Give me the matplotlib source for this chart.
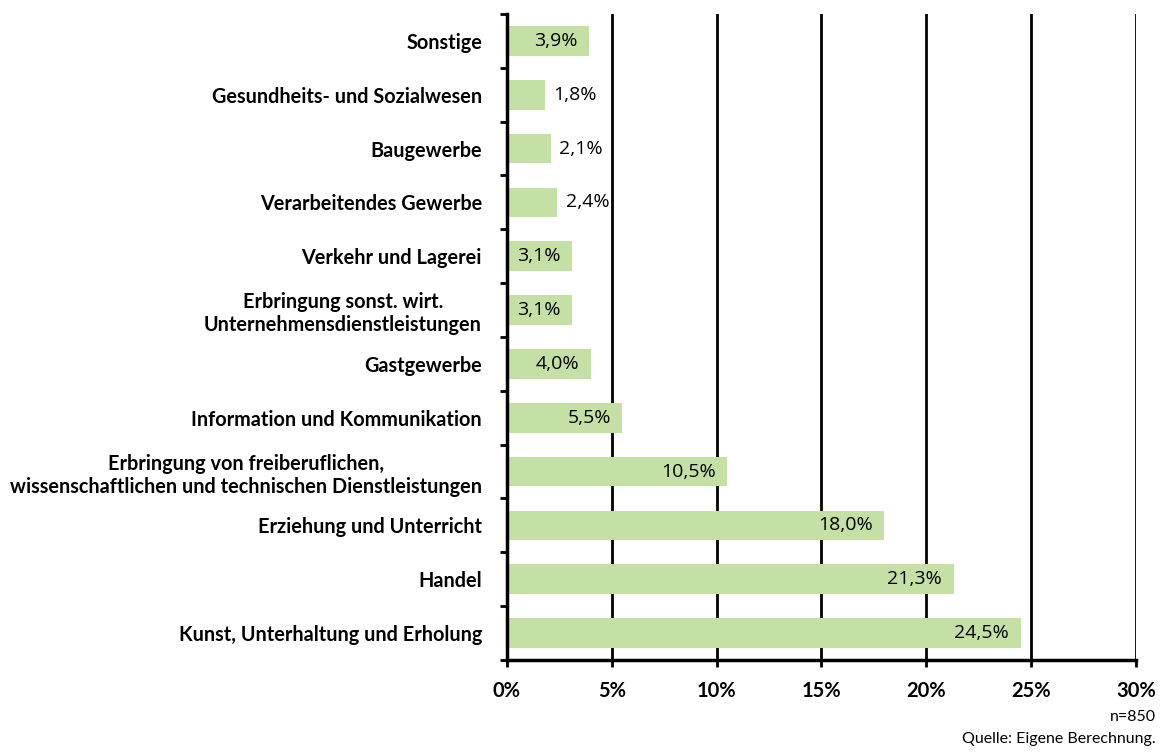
import matplotlib.pyplot as plt
import numpy as np

# categories from top to bottom
categories = [
    "Sonstige",
    "Gesundheits- und Sozialwesen",
    "Baugewerbe",
    "Verarbeitendes Gewerbe",
    "Verkehr und Lagerei",
    "Erbringung sonst. wirt.\nUnternehmensdienstleistungen",
    "Gastgewerbe",
    "Information und Kommunikation",
    "Erbringung von freiberuflichen,\nwissenschaftlichen und technischen Dienstleistungen",
    "Erziehung und Unterricht",
    "Handel",
    "Kunst, Unterhaltung und Erholung",
]
values = [3.9, 1.8, 2.1, 2.4, 3.1, 3.1, 4.0, 5.5, 10.5, 18.0, 21.3, 24.5]
xticks = [0, 5, 10, 15, 20, 25, 30]

plt.rcParams['font.family'] = ['Lato', 'DejaVu Sans']

fig = plt.figure(figsize=(11.62, 7.56), dpi=100)
ax = fig.add_axes([0.4363, 0.127, 0.5413, 0.8545])

y = np.arange(len(categories))
ax.barh(y, values, height=0.55, color='#C5E0A5', zorder=2)

# value labels: inside the bar end if it fits, otherwise right of it
for yi, v in zip(y, values):
    txt = f"{v:.1f}%".replace('.', ',')
    if v >= 3.0:
        ax.text(v - 0.55, yi, txt, ha='right', va='center', fontsize=14,
                family='Open Sans', zorder=3)
    else:
        ax.text(v + 0.4, yi, txt, ha='left', va='center', fontsize=14,
                family='Open Sans', zorder=3)

ax.set_xlim(0, 30)
ax.set_ylim(len(categories) - 0.5, -0.5)

ax.set_xticks(xticks)
ax.set_xticklabels([f"{t}%" for t in xticks], fontsize=14.5, fontweight='bold')
ax.tick_params(axis='x', length=5, width=2, pad=10, direction='out')

ax.set_yticks(y)
ax.set_yticklabels(categories, fontsize=14.3, fontweight='bold')
for lab in ax.get_yticklabels():
    lab.set_multialignment('center')
ax.tick_params(axis='y', which='major', length=0, pad=18)
ax.set_yticks(np.arange(-0.5, len(categories)), minor=True)
ax.tick_params(axis='y', which='minor', length=5, width=2, direction='out')

# vertical gridlines
for t in xticks[1:]:
    ax.axvline(t, color='black', lw=2, zorder=1)

for s in ['top', 'right']:
    ax.spines[s].set_visible(False)
for s in ['left', 'bottom']:
    ax.spines[s].set_linewidth(2.5)
    ax.spines[s].set_zorder(4)

fig.text(0.9945, 0.051, "n=850", ha='right', va='center', fontsize=11.5)
fig.text(0.9945, 0.022, "Quelle: Eigene Berechnung.", ha='right', va='center', fontsize=11.5)

fig.savefig('out.png', dpi=100)
